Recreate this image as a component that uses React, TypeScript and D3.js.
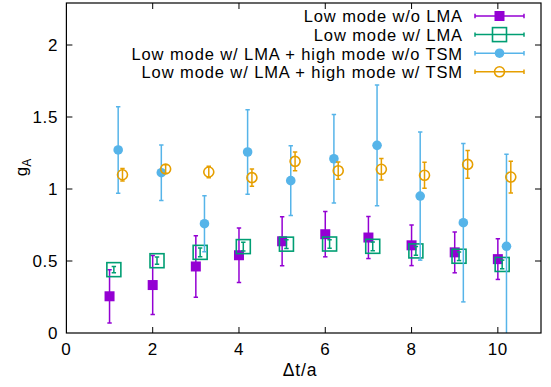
import React from "react";
import * as d3 from "d3";

const W = 551;
const H = 387;

const dt = [1, 2, 3, 4, 5, 6, 7, 8, 9, 10];
const xTicks = [0, 2, 4, 6, 8, 10];
const yTicks = [0, 0.5, 1, 1.5, 2];

const lowNoLMA = [0.255, 0.333, 0.462, 0.54, 0.637, 0.686, 0.663, 0.609, 0.56, 0.513];
const lowNoLMAErr = [0.185, 0.205, 0.214, 0.19, 0.17, 0.157, 0.146, 0.141, 0.142, 0.141];

const lowLMA = [0.44, 0.502, 0.56, 0.6, 0.617, 0.618, 0.602, 0.57, 0.533, 0.476];
const lowLMAErr = [0.022, 0.025, 0.03, 0.03, 0.03, 0.03, 0.03, 0.03, 0.03, 0.03];

const highNoTSM = [1.271, 1.113, 0.759, 1.257, 1.058, 1.21, 1.303, 0.951, 0.766, 0.602];
const highNoTSMErr = [0.3, 0.193, 0.194, 0.293, 0.242, 0.308, 0.42, 0.445, 0.55, 0.64];

const highTSM = [1.099, 1.139, 1.118, 1.079, 1.192, 1.127, 1.137, 1.095, 1.171, 1.083];
const highTSMErr = [0.043, 0.03, 0.04, 0.06, 0.065, 0.06, 0.074, 0.09, 0.096, 0.11];

const labels = [
  "Low mode w/o LMA",
  "Low mode w/ LMA",
  "Low mode w/ LMA + high mode w/o TSM",
  "Low mode w/ LMA + high mode w/ TSM",
];
const offsets = [0, 0.1, 0.2, 0.3];
const colors = ["#9400d3", "#009e73", "#56b4e9", "#e69f00"];
const markers = ["fsquare", "osquare", "fcircle", "ocircle"];

const values = [lowNoLMA, lowLMA, highNoTSM, highTSM];
const errors = [lowNoLMAErr, lowLMAErr, highNoTSMErr, highTSMErr];

const L = 66.4, R = 541, T = 3, B = 333;
const x = d3.scaleLinear().domain([0, 11]).range([L, R]);
const y = d3.scaleLinear().domain([0, 2.2917]).range([B, T]);

const FONT = "'Liberation Sans', Arial, Helvetica, sans-serif";

function Marker({ kind, cx, cy, color }: { kind: string; cx: number; cy: number; color: string }) {
  if (kind === "fsquare") return <rect x={cx - 5} y={cy - 5} width={10} height={10} fill={color} />;
  if (kind === "osquare")
    return <rect x={cx - 7} y={cy - 7} width={14} height={14} fill="none" stroke={color} strokeWidth={1.6} />;
  if (kind === "fcircle") return <circle cx={cx} cy={cy} r={4.8} fill={color} />;
  return <circle cx={cx} cy={cy} r={5} fill="none" stroke={color} strokeWidth={1.6} />;
}

export default function App() {
  const cap = 2.2;
  return (
    <svg width={W} height={H} style={{ position: "absolute", left: 0, top: 0, background: "#fff" }}>
      <defs>
        <clipPath id="plotclip">
          <rect x={L} y={T} width={R - L} height={B - T} />
        </clipPath>
      </defs>
      {xTicks.map((t) => (
        <g key={"xt" + t}>
          {t > 0 && <line x1={x(t)} x2={x(t)} y1={B} y2={B - 6} stroke="#000" strokeWidth={1} />}
          {t > 0 && <line x1={x(t)} x2={x(t)} y1={T} y2={T + 6} stroke="#000" strokeWidth={1} />}
          <text x={x(t)} y={354.5} textAnchor="middle" fontFamily={FONT} fontSize={17} letterSpacing={0.6} fill="#000">
            {t}
          </text>
        </g>
      ))}
      {yTicks.map((t) => (
        <g key={"yt" + t}>
          {t > 0 && <line x1={L} x2={L + 6} y1={y(t)} y2={y(t)} stroke="#000" strokeWidth={1} />}
          {t > 0 && <line x1={R} x2={R - 6} y1={y(t)} y2={y(t)} stroke="#000" strokeWidth={1} />}
          <text x={58} y={y(t) + 6} textAnchor="end" fontFamily={FONT} fontSize={17} letterSpacing={0.6} fill="#000">
            {t}
          </text>
        </g>
      ))}
      <g clipPath="url(#plotclip)">
        {values.map((vals, si) => (
          <g key={"s" + si}>
            {vals.map((v, i) => {
              const cx = x(dt[i] + offsets[si]);
              const e = errors[si][i];
              const y1 = y(v + e);
              const y0 = y(v - e);
              return (
                <g key={i}>
                  <line x1={cx} x2={cx} y1={y1} y2={y0} stroke={colors[si]} strokeWidth={1.5} />
                  <line x1={cx - cap} x2={cx + cap} y1={y1} y2={y1} stroke={colors[si]} strokeWidth={1.5} />
                  <line x1={cx - cap} x2={cx + cap} y1={y0} y2={y0} stroke={colors[si]} strokeWidth={1.5} />
                  <Marker kind={markers[si]} cx={cx} cy={y(v)} color={colors[si]} />
                </g>
              );
            })}
          </g>
        ))}
      </g>
      <rect x={L} y={T} width={R - L} height={B - T} fill="none" stroke="#000" strokeWidth={1.2} />
      {labels.map((lab, i) => {
        const ly = 16 + i * 18.6;
        return (
          <g key={"lg" + i}>
            <text x={463} y={ly + 6.3} textAnchor="end" fontFamily={FONT} fontSize={16.5} letterSpacing={0.9} fill="#000">
              {lab}
            </text>
            <line x1={475} x2={524} y1={ly} y2={ly} stroke={colors[i]} strokeWidth={1.5} />
            <line x1={475} x2={475} y1={ly - cap} y2={ly + cap} stroke={colors[i]} strokeWidth={1.5} />
            <line x1={524} x2={524} y1={ly - cap} y2={ly + cap} stroke={colors[i]} strokeWidth={1.5} />
            <Marker kind={markers[i]} cx={499.5} cy={ly} color={colors[i]} />
          </g>
        );
      })}
      <text x={300} y={376} textAnchor="middle" fontFamily={FONT} fontSize={17.5} letterSpacing={0.9} fill="#000">
        Δt/a
      </text>
      <text
        transform={`translate(27,${y(1.15)}) rotate(-90)`}
        textAnchor="middle"
        fontFamily={FONT}
        fontSize={17}
        fill="#000"
      >
        g<tspan fontSize={12} dy={4}>A</tspan>
      </text>
    </svg>
  );
}
